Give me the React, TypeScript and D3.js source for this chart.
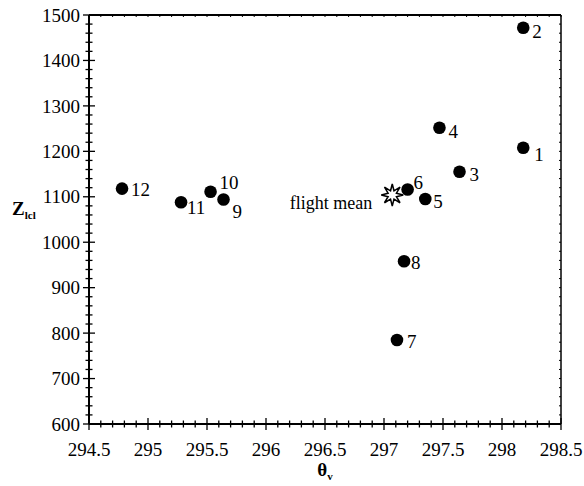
import React from "react";
import * as d3 from "d3";

// flight legs: theta_v (K) vs LCL height (m)
const legIds = ["1", "2", "3", "4", "5", "6", "7", "8", "9", "10", "11", "12"];
const thetaV = [298.18, 298.18, 297.64, 297.47, 297.35, 297.2, 297.11, 297.17, 295.64, 295.53, 295.28, 294.78];
const zLcl = [1208, 1472, 1155, 1252, 1095, 1116, 785, 958, 1094, 1111, 1088, 1118];
const flightMean = { theta: 297.07, z: 1104, label: "flight mean" };

const xTicks = [294.5, 295, 295.5, 296, 296.5, 297, 297.5, 298, 298.5];
const yTicks = [600, 700, 800, 900, 1000, 1100, 1200, 1300, 1400, 1500];

// label offsets from each marker (dx, dy)
const labelOffset: [number, number][] = [
  [11, 7], [9, 4], [10, 3], [9, 4], [8, 2], [6, -7],
  [10, 1], [7, 1], [9, 12], [9, -9], [6, 5], [9, 1],
];

const W = 584;
const H = 486;
const margin = { top: 15, right: 23, bottom: 62, left: 89 };
const font = "'Liberation Serif', 'DejaVu Serif', serif";

export default function App() {
  const x = d3.scaleLinear().domain([294.5, 298.5]).range([margin.left, W - margin.right]);
  const y = d3.scaleLinear().domain([600, 1500]).range([H - margin.bottom, margin.top]);
  const x0 = x.range()[0], x1 = x.range()[1];
  const y0 = y.range()[0], y1 = y.range()[1];

  const xMinor = d3.range(0, 41).map((i) => 294.5 + i * 0.1);
  const yMinor = d3.range(0, 46).map((i) => 600 + i * 20);

  // 8-point outlined star for the flight mean
  const star = (() => {
    const pts: [number, number][] = [];
    for (let i = 0; i < 16; i++) {
      const r = i % 2 === 0 ? 11 : 4.5;
      pts.push([(Math.PI * i) / 8, r]);
    }
    return d3.lineRadial().curve(d3.curveLinearClosed)(pts) || "";
  })();

  return (
    <svg width={W} height={H} style={{ position: "absolute", left: 0, top: 0, background: "#fff" }}>
      {/* frame */}
      <line x1={x0} x2={x1} y1={y1} y2={y1} stroke="#000" strokeWidth={2} />
      <line x1={x1} x2={x1} y1={y1} y2={y0} stroke="#000" strokeWidth={1.5} />
      <line x1={x0} x2={x1} y1={y0} y2={y0} stroke="#000" strokeWidth={2} />
      <line x1={x0} x2={x0} y1={y1} y2={y0} stroke="#000" strokeWidth={2} />

      {/* x ticks */}
      {xMinor.map((v, i) => {
        const major = i % 5 === 0;
        const len = major ? 6 : 3.5;
        return (
          <g key={`xm${i}`}>
            <line x1={x(v)} x2={x(v)} y1={y0 - len} y2={y0 + len} stroke="#000" strokeWidth={1.3} />
            <line x1={x(v)} x2={x(v)} y1={y1} y2={y1 + 2} stroke="#000" strokeWidth={1} />
          </g>
        );
      })}
      {/* y ticks */}
      {yMinor.map((v, i) => {
        const major = i % 5 === 0;
        const len = major ? 6 : 3.5;
        return (
          <g key={`ym${i}`}>
            <line x1={x0 - len} x2={x0 + len} y1={y(v)} y2={y(v)} stroke="#000" strokeWidth={1.3} />
            <line x1={x1 - 2} x2={x1} y1={y(v)} y2={y(v)} stroke="#000" strokeWidth={1} />
          </g>
        );
      })}

      {xTicks.map((v) => (
        <text key={`xt${v}`} x={x(v)} y={y0 + 32} textAnchor="middle" fontFamily={font} fontSize={19}>
          {v}
        </text>
      ))}
      {yTicks.map((v) => (
        <text key={`yt${v}`} x={x0 - 9} y={y(v)} dy="0.35em" textAnchor="end" fontFamily={font} fontSize={19}>
          {v}
        </text>
      ))}

      {/* axis titles */}
      <text x={x(296.5)} y={H - 10} textAnchor="middle" fontFamily={font} fontSize={19} fontWeight="bold">
        θ<tspan fontSize={11} dy={4}>v</tspan>
      </text>
      <text x={12} y={y(1060)} fontFamily={font} fontSize={19} fontWeight="bold">
        Z<tspan fontSize={11} dy={4}>lcl</tspan>
      </text>

      {/* flight mean */}
      <text
        x={x(flightMean.theta) - 20}
        y={y(flightMean.z) + 8}
        dy="0.35em"
        textAnchor="end"
        fontFamily={font}
        fontSize={18}
      >
        {flightMean.label}
      </text>

      {/* legs */}
      {legIds.map((id, i) => (
        <g key={id}>
          <circle cx={x(thetaV[i])} cy={y(zLcl[i])} r={6.3} fill="#000" />
          <text
            x={x(thetaV[i]) + labelOffset[i][0]}
            y={y(zLcl[i]) + labelOffset[i][1]}
            dy="0.35em"
            fontFamily={font}
            fontSize={19}
          >
            {id}
          </text>
        </g>
      ))}

      <path
        d={star}
        transform={`translate(${x(flightMean.theta)},${y(flightMean.z)})`}
        fill="#fff"
        stroke="#000"
        strokeWidth={1.5}
      />
    </svg>
  );
}
